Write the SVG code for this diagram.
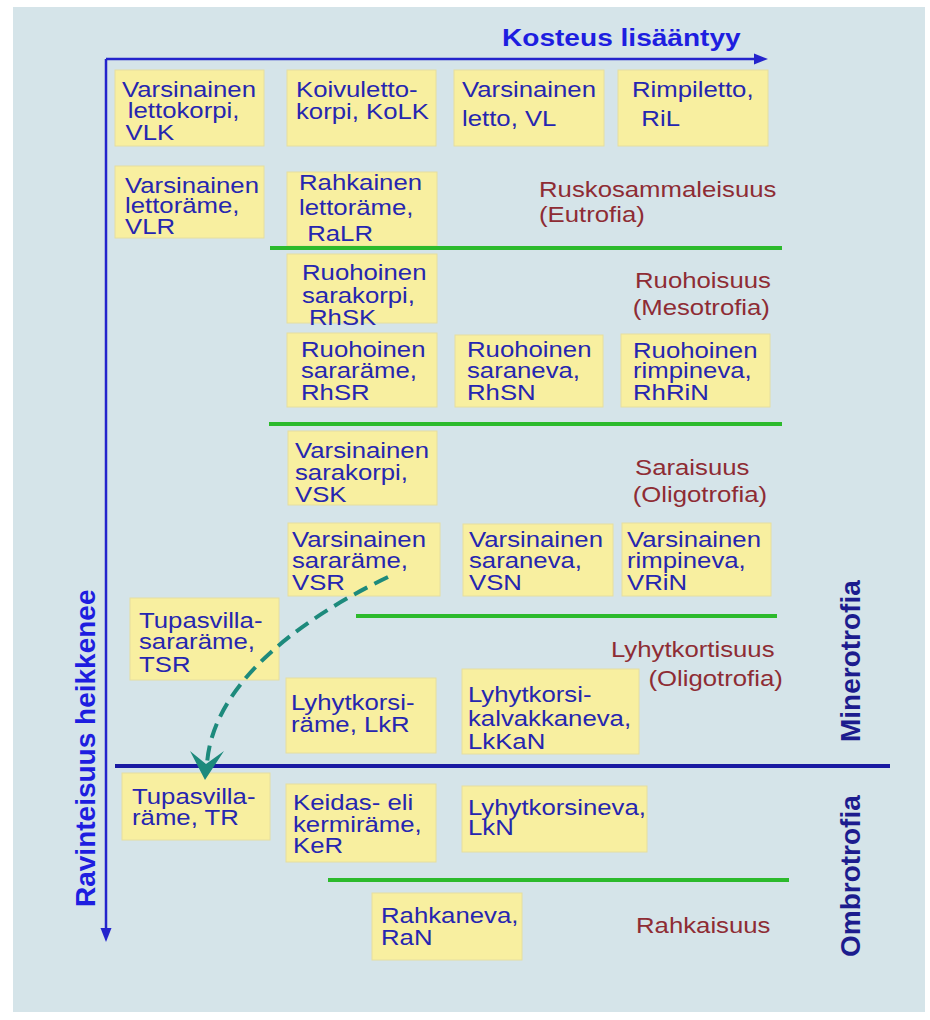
<svg xmlns="http://www.w3.org/2000/svg" width="930" height="1020" viewBox="0 0 930 1020">
<defs>
<style>
.bg{fill:#d5e4e9}
.box{fill:#f8efa0;stroke:#e6dea0;stroke-width:1}
.nt{font-family:"Liberation Sans",Arial,sans-serif;font-size:22px;fill:#2626b0}
.lb{font-family:"Liberation Sans",Arial,sans-serif;font-size:22px;fill:#8e2c34}
.ax{font-family:"Liberation Sans",Arial,sans-serif;font-weight:bold;fill:#1e1ee0}
.tr{font-family:"Liberation Sans",Arial,sans-serif;font-weight:bold;font-size:28px;fill:#1c1c8e}
.axis{stroke:#2424cc;stroke-width:2.5;fill:none}
.green{stroke:#2cba2c;stroke-width:4;fill:none}
.navy{stroke:#1a1aa2;stroke-width:4;fill:none}
</style>
</defs>
<rect x="0" y="0" width="930" height="1020" fill="#ffffff"/>
<rect class="bg" x="13" y="7" width="912" height="1005"/>

<g id="axes">
<line class="axis" x1="106" y1="59" x2="757" y2="59"/>
<polygon points="768,59 754,53.5 754,64.5" fill="#2424cc"/>
<line class="axis" x1="106" y1="59" x2="106" y2="930"/>
<polygon points="106,942 100.5,928 111.5,928" fill="#2424cc"/>
<text class="ax" font-size="24" transform="translate(502,0) scale(1.17,1)"><tspan x="0" y="46">Kosteus lisääntyy</tspan></text>
<text class="ax" font-size="28" transform="translate(95,907) rotate(-90)">Ravinteisuus heikkenee</text>
</g>

<g id="n-VLK"><rect class="box" x="115" y="70" width="149" height="76"/>
<text class="nt" transform="translate(122,0) scale(1.17,1)"><tspan x="0" y="97">Varsinainen</tspan><tspan x="5" y="118">lettokorpi,</tspan><tspan x="3" y="140">VLK</tspan></text></g>
<g id="n-KoLK"><rect class="box" x="287" y="70" width="149" height="76"/>
<text class="nt" transform="translate(296,0) scale(1.17,1)"><tspan x="0" y="97">Koivuletto-</tspan><tspan x="0" y="119">korpi, KoLK</tspan></text></g>
<g id="n-VL"><rect class="box" x="454" y="70" width="150" height="76"/>
<text class="nt" transform="translate(462,0) scale(1.17,1)"><tspan x="0" y="97">Varsinainen</tspan><tspan x="0" y="126">letto, VL</tspan></text></g>
<g id="n-RiL"><rect class="box" x="618" y="70" width="150" height="76"/>
<text class="nt" transform="translate(632,0) scale(1.17,1)"><tspan x="0" y="97">Rimpiletto,</tspan><tspan x="8" y="126">RiL</tspan></text></g>
<g id="n-VLR"><rect class="box" x="115" y="166" width="149" height="72"/>
<text class="nt" transform="translate(125,0) scale(1.17,1)"><tspan x="0" y="193">Varsinainen</tspan><tspan x="0" y="213">lettoräme,</tspan><tspan x="0" y="234">VLR</tspan></text></g>
<g id="n-RaLR"><rect class="box" x="287" y="172" width="150" height="74"/>
<text class="nt" transform="translate(299,0) scale(1.17,1)"><tspan x="0" y="190">Rahkainen</tspan><tspan x="0" y="215">lettoräme,</tspan><tspan x="7" y="241">RaLR</tspan></text></g>
<g id="n-RhSK"><rect class="box" x="287" y="254" width="150" height="69"/>
<text class="nt" transform="translate(302,0) scale(1.17,1)"><tspan x="0" y="280">Ruohoinen</tspan><tspan x="0" y="303">sarakorpi,</tspan><tspan x="6" y="325">RhSK</tspan></text></g>
<g id="n-RhSR"><rect class="box" x="287" y="333" width="150" height="74"/>
<text class="nt" transform="translate(301,0) scale(1.17,1)"><tspan x="0" y="357">Ruohoinen</tspan><tspan x="0" y="378">sararäme,</tspan><tspan x="0" y="400">RhSR</tspan></text></g>
<g id="n-RhSN"><rect class="box" x="455" y="335" width="148" height="72"/>
<text class="nt" transform="translate(467,0) scale(1.17,1)"><tspan x="0" y="357">Ruohoinen</tspan><tspan x="0" y="378">saraneva,</tspan><tspan x="0" y="400">RhSN</tspan></text></g>
<g id="n-RhRiN"><rect class="box" x="621" y="334" width="149" height="73"/>
<text class="nt" transform="translate(633,0) scale(1.17,1)"><tspan x="0" y="358">Ruohoinen</tspan><tspan x="0" y="378">rimpineva,</tspan><tspan x="0" y="400">RhRiN</tspan></text></g>
<g id="n-VSK"><rect class="box" x="288" y="431" width="149" height="74"/>
<text class="nt" transform="translate(295,0) scale(1.17,1)"><tspan x="0" y="458">Varsinainen</tspan><tspan x="0" y="480">sarakorpi,</tspan><tspan x="0" y="502">VSK</tspan></text></g>
<g id="n-VSR"><rect class="box" x="288" y="523" width="152" height="73"/>
<text class="nt" transform="translate(292,0) scale(1.17,1)"><tspan x="0" y="547">Varsinainen</tspan><tspan x="0" y="568">sararäme,</tspan><tspan x="0" y="590">VSR</tspan></text></g>
<g id="n-VSN"><rect class="box" x="463" y="524" width="150" height="72"/>
<text class="nt" transform="translate(469,0) scale(1.17,1)"><tspan x="0" y="547">Varsinainen</tspan><tspan x="0" y="568">saraneva,</tspan><tspan x="0" y="590">VSN</tspan></text></g>
<g id="n-VRiN"><rect class="box" x="622" y="523" width="149" height="73"/>
<text class="nt" transform="translate(627,0) scale(1.17,1)"><tspan x="0" y="547">Varsinainen</tspan><tspan x="0" y="568">rimpineva,</tspan><tspan x="0" y="590">VRiN</tspan></text></g>
<g id="n-TSR"><rect class="box" x="130" y="598" width="149" height="82"/>
<text class="nt" transform="translate(139,0) scale(1.17,1)"><tspan x="0" y="628">Tupasvilla-</tspan><tspan x="0" y="649">sararäme,</tspan><tspan x="0" y="672">TSR</tspan></text></g>
<g id="n-LkR"><rect class="box" x="286" y="678" width="150" height="75"/>
<text class="nt" transform="translate(291,0) scale(1.17,1)"><tspan x="0" y="710">Lyhytkorsi-</tspan><tspan x="0" y="732">räme, LkR</tspan></text></g>
<g id="n-LkKaN"><rect class="box" x="462" y="669" width="177" height="85"/>
<text class="nt" transform="translate(468,0) scale(1.17,1)"><tspan x="0" y="702">Lyhytkorsi-</tspan><tspan x="0" y="726">kalvakkaneva,</tspan><tspan x="0" y="749">LkKaN</tspan></text></g>
<g id="n-TR"><rect class="box" x="122" y="773" width="148" height="67"/>
<text class="nt" transform="translate(132,0) scale(1.17,1)"><tspan x="0" y="804">Tupasvilla-</tspan><tspan x="0" y="825">räme, TR</tspan></text></g>
<g id="n-KeR"><rect class="box" x="286" y="784" width="150" height="78"/>
<text class="nt" transform="translate(293,0) scale(1.17,1)"><tspan x="0" y="810">Keidas- eli</tspan><tspan x="0" y="832">kermiräme,</tspan><tspan x="0" y="853">KeR</tspan></text></g>
<g id="n-LkN"><rect class="box" x="462" y="786" width="185" height="66"/>
<text class="nt" transform="translate(468,0) scale(1.17,1)"><tspan x="0" y="815">Lyhytkorsineva,</tspan><tspan x="0" y="835">LkN</tspan></text></g>
<g id="n-RaN"><rect class="box" x="372" y="893" width="150" height="67"/>
<text class="nt" transform="translate(381,0) scale(1.17,1)"><tspan x="0" y="923">Rahkaneva,</tspan><tspan x="0" y="945">RaN</tspan></text></g>

<g id="labels">
<text class="lb" transform="translate(539,0) scale(1.17,1)"><tspan x="0" y="197">Ruskosammaleisuus</tspan><tspan x="0" y="222">(Eutrofia)</tspan></text>
<text class="lb" transform="translate(635,0) scale(1.17,1)"><tspan x="0" y="288">Ruohoisuus</tspan><tspan x="-2" y="315">(Mesotrofia)</tspan></text>
<text class="lb" transform="translate(635,0) scale(1.17,1)"><tspan x="0" y="475">Saraisuus</tspan><tspan x="-2" y="502">(Oligotrofia)</tspan></text>
<text class="lb" transform="translate(611,0) scale(1.17,1)"><tspan x="0" y="657">Lyhytkortisuus</tspan><tspan x="32" y="686">(Oligotrofia)</tspan></text>
<text class="lb" transform="translate(636,0) scale(1.17,1)"><tspan x="0" y="933">Rahkaisuus</tspan></text>
<text class="tr" transform="translate(860,742) rotate(-90)">Minerotrofia</text>
<text class="tr" transform="translate(860,957) rotate(-90)">Ombrotrofia</text>
</g>

<g id="connectors">
<line class="green" x1="270" y1="248" x2="782" y2="248"/>
<line class="green" x1="269" y1="424" x2="782" y2="424"/>
<line class="green" x1="356" y1="616" x2="777" y2="616"/>
<line class="green" x1="328" y1="880" x2="789" y2="880"/>
<line class="navy" x1="115" y1="766" x2="890" y2="766"/>
<path d="M388,577 C288,625 212,690 207,764" fill="none" stroke="#1d8a7c" stroke-width="4" stroke-dasharray="15,8"/>
<path d="M205,780 L190,751 L206,764 L224,751 Z" fill="#1d8a7c"/>
</g>
</svg>
